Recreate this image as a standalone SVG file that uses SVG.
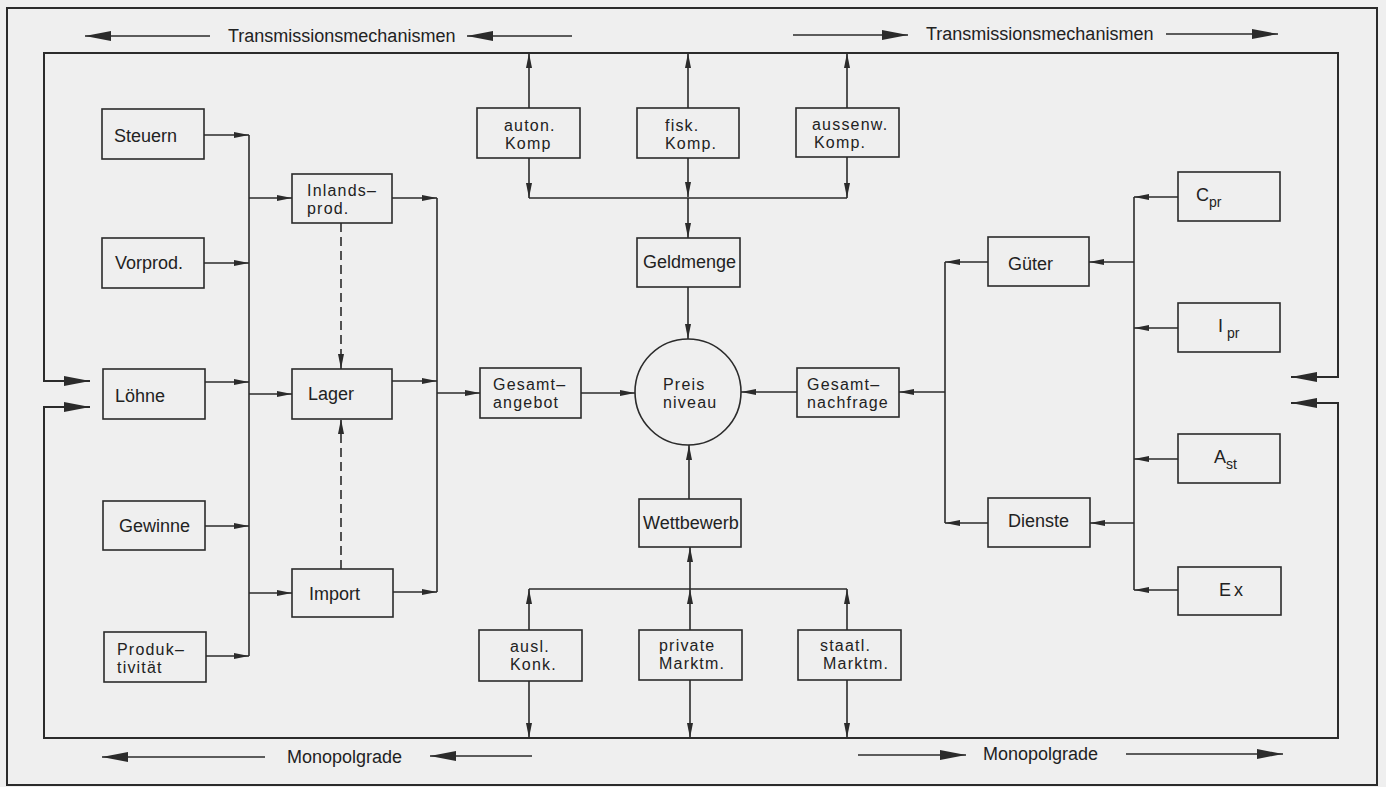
<svg xmlns="http://www.w3.org/2000/svg" width="1386" height="787" viewBox="0 0 1386 787">
<style>
.bg{fill:#efefef}
.box{fill:none;stroke:#2b2b2b;stroke-width:1.6}
.ln{fill:none;stroke:#2b2b2b;stroke-width:1.6}
.fr{fill:none;stroke:#2b2b2b;stroke-width:2}
.ar{marker-end:url(#a)}
.AR{marker-end:url(#A)}
.dash{stroke-dasharray:9 5}
text{font-family:"Liberation Sans",Arial,sans-serif;font-size:18px;fill:#222}
.t2{font-size:16px;letter-spacing:1.2px}
.sub{font-size:14px}
</style>
<defs>
<marker id="a" markerUnits="userSpaceOnUse" markerWidth="15" markerHeight="6" refX="15" refY="3" orient="auto-start-reverse"><path d="M0,0 L15,3 L0,6 z" fill="#2b2b2b"/></marker>
<marker id="A" markerUnits="userSpaceOnUse" markerWidth="26" markerHeight="10" refX="26" refY="5" orient="auto-start-reverse"><path d="M0,0 L26,5 L0,10 z" fill="#2b2b2b"/></marker>
</defs>
<rect class="bg" x="0" y="0" width="1386" height="787"/>
<rect class="fr" x="7" y="8" width="1370" height="777"/>

<g id="connectors">
<path class="fr" d="M90,381 L44,381 L44,53 L1338,53 L1338,377 L1291,377" marker-start="url(#A)" marker-end="url(#A)"/>
<path class="fr" d="M90,407 L44,407 L44,738 L1338,738 L1338,403 L1291,403" marker-start="url(#A)" marker-end="url(#A)"/>
<path class="ln AR" d="M210,36 L85,36"/>
<path class="ln AR" d="M572,36 L467,36"/>
<path class="ln AR" d="M793,35 L908,35"/>
<path class="ln AR" d="M1166,34 L1278,34"/>
<path class="ln AR" d="M265,757 L102,757"/>
<path class="ln AR" d="M532,756 L430,756"/>
<path class="ln AR" d="M858,755 L966,755"/>
<path class="ln AR" d="M1126,754 L1283,754"/>
<path class="ln ar" d="M204,135 L249,135"/>
<path class="ln ar" d="M204,263 L249,263"/>
<path class="ln ar" d="M205,382 L249,382"/>
<path class="ln ar" d="M205,526 L249,526"/>
<path class="ln ar" d="M206,656 L249,656"/>
<path class="ln" d="M249,135 L249,656"/>
<path class="ln ar" d="M249,198 L292,198"/>
<path class="ln ar" d="M249,394 L292,394"/>
<path class="ln ar" d="M249,593 L292,593"/>
<path class="ln ar dash" d="M341,223 L341,369"/>
<path class="ln ar dash" d="M341,569 L341,419"/>
<path class="ln ar" d="M392,198 L437,198"/>
<path class="ln ar" d="M392,381 L437,381"/>
<path class="ln ar" d="M393,592 L437,592"/>
<path class="ln" d="M437,198 L437,592"/>
<path class="ln ar" d="M437,393 L480,393"/>
<path class="ln ar" d="M581,393 L635,393"/>
<path class="ln ar" d="M945,392 L899,392"/>
<path class="ln ar" d="M797,392 L741,392"/>
<path class="ln ar" d="M688,287 L688,339"/>
<path class="ln ar" d="M689,499 L689,445"/>
<path class="ln ar" d="M529,108 L529,53"/>
<path class="ln ar" d="M688,108 L688,53"/>
<path class="ln ar" d="M847,108 L847,53"/>
<path class="ln ar" d="M529,158 L529,198"/>
<path class="ln ar" d="M688,158 L688,197"/>
<path class="ln ar" d="M847,157 L847,198"/>
<path class="ln" d="M529,198 L847,198"/>
<path class="ln ar" d="M688,198 L688,238"/>
<path class="ln" d="M529,589 L847,589"/>
<path class="ln ar" d="M529,630 L529,589"/>
<path class="ln ar" d="M690,630 L690,589"/>
<path class="ln ar" d="M847,630 L847,589"/>
<path class="ln ar" d="M690,589 L690,547"/>
<path class="ln ar" d="M529,681 L529,738"/>
<path class="ln ar" d="M690,680 L690,738"/>
<path class="ln ar" d="M847,680 L847,738"/>
<path class="ln ar" d="M1178,197 L1134,197"/>
<path class="ln ar" d="M1178,328 L1134,328"/>
<path class="ln ar" d="M1178,459 L1134,459"/>
<path class="ln ar" d="M1178,590 L1134,590"/>
<path class="ln" d="M1134,197 L1134,590"/>
<path class="ln ar" d="M1134,262 L1089,262"/>
<path class="ln ar" d="M1134,523 L1090,523"/>
<path class="ln ar" d="M988,262 L945,262"/>
<path class="ln ar" d="M988,523 L945,523"/>
<path class="ln" d="M945,262 L945,523"/>
</g>

<g id="labels">
<text x="228" y="42">Transmissionsmechanismen</text>
<text x="926" y="40">Transmissionsmechanismen</text>
<text x="287" y="763">Monopolgrade</text>
<text x="983" y="760">Monopolgrade</text>
</g>

<g id="steuern"><rect class="box" x="102" y="109" width="102" height="50"/><text x="114" y="142">Steuern</text></g>
<g id="vorprod"><rect class="box" x="102" y="238" width="102" height="50"/><text x="115" y="269">Vorprod.</text></g>
<g id="loehne"><rect class="box" x="103" y="369" width="102" height="50"/><text x="115" y="402">Löhne</text></g>
<g id="gewinne"><rect class="box" x="103" y="501" width="102" height="49"/><text x="119" y="532">Gewinne</text></g>
<g id="produktivitaet"><rect class="box" x="104" y="632" width="102" height="50"/><text class="t2" x="117" y="655">Produk–</text><text class="t2" x="117" y="673">tivität</text></g>

<g id="inlandsprod"><rect class="box" x="292" y="174" width="100" height="49"/><text class="t2" x="307" y="196">Inlands–</text><text class="t2" x="307" y="214">prod.</text></g>
<g id="lager"><rect class="box" x="292" y="369" width="100" height="50"/><text x="308" y="400">Lager</text></g>
<g id="import"><rect class="box" x="292" y="569" width="101" height="48"/><text x="309" y="600">Import</text></g>

<g id="gesamtangebot"><rect class="box" x="480" y="368" width="101" height="50"/><text class="t2" x="493" y="390">Gesamt–</text><text class="t2" x="493" y="408">angebot</text></g>
<g id="preisniveau"><circle class="box" cx="688" cy="392" r="53"/><text class="t2" x="663" y="390">Preis</text><text class="t2" x="663" y="408">niveau</text></g>
<g id="gesamtnachfrage"><rect class="box" x="797" y="368" width="102" height="49"/><text class="t2" x="807" y="390">Gesamt–</text><text class="t2" x="807" y="408">nachfrage</text></g>

<g id="geldmenge"><rect class="box" x="637" y="238" width="103" height="49"/><text x="643" y="268">Geldmenge</text></g>
<g id="autonkomp"><rect class="box" x="477" y="108" width="103" height="50"/><text class="t2" x="504" y="131">auton.</text><text class="t2" x="505" y="149">Komp</text></g>
<g id="fiskkomp"><rect class="box" x="637" y="108" width="102" height="50"/><text class="t2" x="665" y="131">fisk.</text><text class="t2" x="665" y="149">Komp.</text></g>
<g id="aussenwkomp"><rect class="box" x="796" y="108" width="103" height="49"/><text class="t2" x="812" y="130">aussenw.</text><text class="t2" x="814" y="148">Komp.</text></g>

<g id="wettbewerb"><rect class="box" x="639" y="499" width="102" height="48"/><text x="643" y="529">Wettbewerb</text></g>
<g id="auslkonk"><rect class="box" x="479" y="630" width="103" height="51"/><text class="t2" x="510" y="652">ausl.</text><text class="t2" x="510" y="670">Konk.</text></g>
<g id="privatemarktm"><rect class="box" x="639" y="630" width="103" height="50"/><text class="t2" x="659" y="651">private</text><text class="t2" x="659" y="669">Marktm.</text></g>
<g id="staatlmarktm"><rect class="box" x="798" y="630" width="103" height="50"/><text class="t2" x="820" y="651">staatl.</text><text class="t2" x="823" y="669">Marktm.</text></g>

<g id="cpr"><rect class="box" x="1178" y="172" width="102" height="49"/><text x="1196" y="201">C<tspan class="sub" dy="6">pr</tspan></text></g>
<g id="gueter"><rect class="box" x="988" y="237" width="101" height="49"/><text x="1008" y="270">Güter</text></g>
<g id="ipr"><rect class="box" x="1178" y="303" width="102" height="49"/><text x="1218" y="332">I<tspan class="sub" dy="6"> pr</tspan></text></g>
<g id="ast"><rect class="box" x="1178" y="434" width="102" height="49"/><text x="1214" y="463">A<tspan class="sub" dy="6">st</tspan></text></g>
<g id="dienste"><rect class="box" x="988" y="498" width="102" height="49"/><text x="1008" y="527">Dienste</text></g>
<g id="ex"><rect class="box" x="1178" y="567" width="103" height="48"/><text x="1219" y="596" letter-spacing="3">Ex</text></g>
</svg>
